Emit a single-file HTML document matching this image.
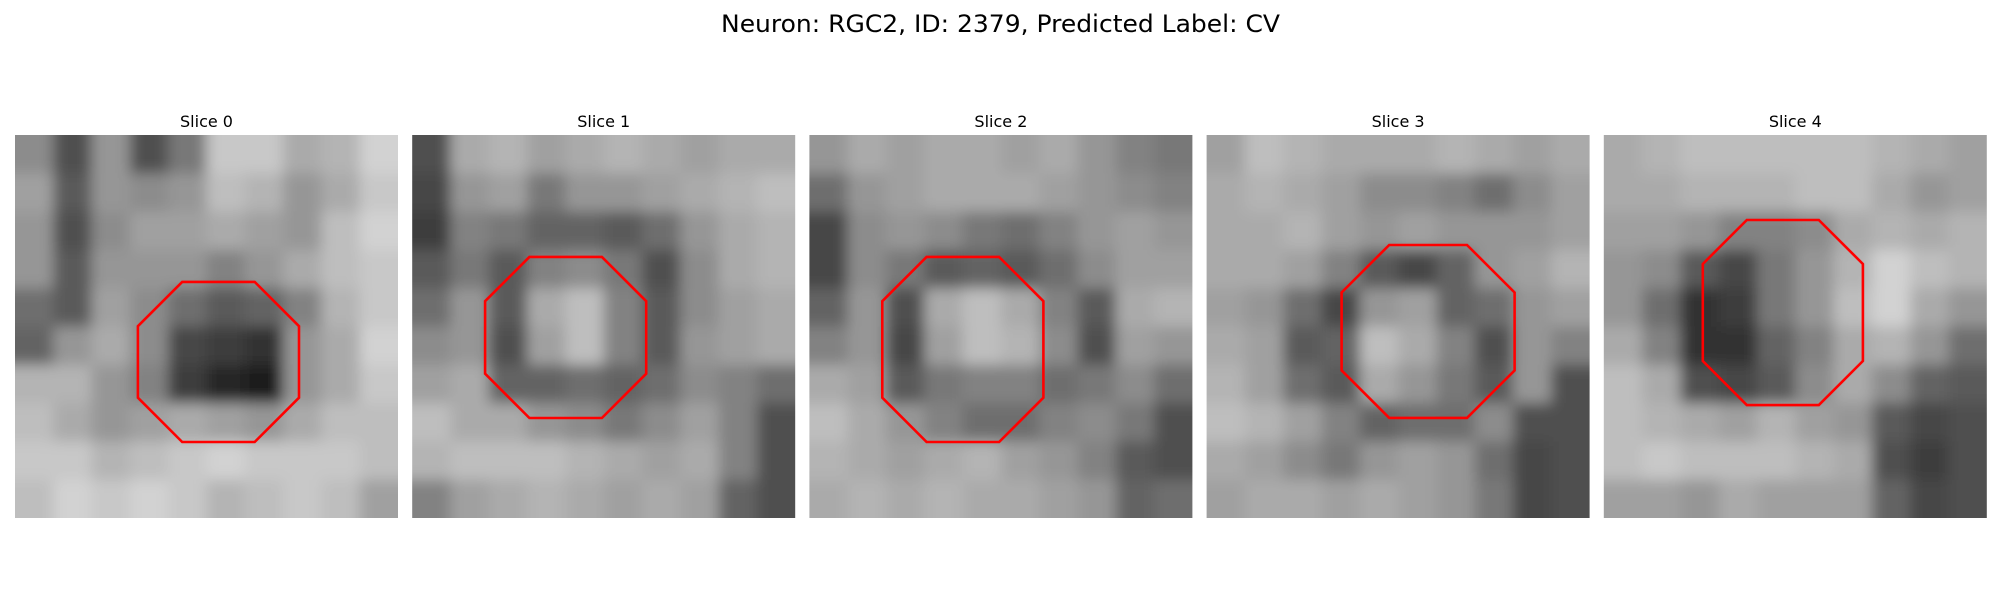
<!DOCTYPE html>
<html>
<head>
<meta charset="utf-8">
<style>
  html, body { margin: 0; padding: 0; background: #fff; }
  svg { display: block; }
  text { font-family: "DejaVu Sans", "Liberation Sans", sans-serif; fill: #000; }
</style>
</head>
<body>
<svg id="fig" width="2000" height="600" viewBox="0 0 2000 600" xmlns="http://www.w3.org/2000/svg">
  <defs>
    <filter id="soft" x="-20%" y="-20%" width="140%" height="140%">
      <feGaussianBlur stdDeviation="7"/>
    </filter>
  </defs>
  <rect x="0" y="0" width="2000" height="600" fill="#fff"/>
  <text x="721" y="32" font-size="24" textLength="559" lengthAdjust="spacingAndGlyphs">Neuron: RGC2, ID: 2379, Predicted Label: CV</text>
  <g id="panels"></g>
</svg>
<script>
// ---- data ----
const sliceTitles = ["Slice 0", "Slice 1", "Slice 2", "Slice 3", "Slice 4"];
// coarse 10x10 grey levels per slice (0 = black, 255 = white)
const grey0 = [
  [140, 80,150, 80,120,200,200,170,180,210],
  [160, 90,150,140,150,190,180,150,170,200],
  [150, 80,140,160,160,170,160,150,190,210],
  [150, 90,150,150,150,130,150,170,190,200],
  [110, 90,160,140,110, 90,100,130,180,200],
  [100,150,170,140, 70, 60, 50,150,170,210],
  [180,180,150,130, 60, 40, 30,150,170,200],
  [190,170,150,160,170,160,150,170,190,190],
  [200,200,180,190,200,210,200,200,200,190],
  [190,210,200,210,200,180,190,200,190,160]
];
const grey1 = [
  [ 80,170,180,160,170,180,170,160,170,170],
  [ 70,150,160,120,150,150,160,170,180,190],
  [ 60,130,120,100,100, 90,110,150,170,180],
  [ 90,120, 90,130,140,120, 80,140,170,180],
  [110,150, 90,170,190,130, 90,140,160,170],
  [140,150, 80,160,190,130, 90,150,160,170],
  [160,170,100,100,110,100,110,140,130,110],
  [190,170,170,150,140,120,140,160,130, 80],
  [180,190,190,190,180,170,160,170,130, 80],
  [130,160,170,180,170,160,170,160,100, 80]
];
const grey2 = [
  [150,170,160,170,170,160,170,150,130,120],
  [110,150,160,170,170,170,160,150,140,130],
  [ 70,140,150,140,120,110,130,150,160,150],
  [ 70,140,120, 90,100, 90,110,140,160,160],
  [100,150, 80,170,190,170,130, 90,170,180],
  [130,150, 70,160,190,180,140, 80,160,150],
  [170,160, 90,120,130,130,110,120,140,110],
  [190,170,150,130,110,110,130,140,120, 80],
  [180,170,160,170,180,160,150,130, 90, 80],
  [170,180,170,180,170,170,160,150,100,110]
];
const grey3 = [
  [160,190,180,170,170,170,180,170,160,170],
  [170,180,170,160,140,140,130,110,140,160],
  [170,170,180,160,150,160,150,150,150,160],
  [170,170,160,130, 90, 70,100,150,160,180],
  [160,150,110, 70,150,160,100,110,150,160],
  [170,160, 90,100,190,170,130, 80,150,130],
  [180,160,110, 90,170,150,120, 90,150, 80],
  [190,180,160,130,100,110,110,140, 80, 80],
  [170,160,140,120,150,160,150,110, 70, 80],
  [160,170,170,160,170,160,150,120, 70, 80]
];
const grey4 = [
  [170,180,190,190,190,190,190,180,170,160],
  [170,170,180,180,180,190,190,170,150,160],
  [160,160,150,130,130,140,170,180,170,180],
  [150,140, 90, 70,120,150,180,210,190,180],
  [150,110, 50, 60,120,150,190,210,170,150],
  [170,130, 50, 50,100,130,170,180,150,110],
  [190,170, 80, 70, 90,140,170,140,100, 90],
  [190,180,170,160,180,160,150, 90, 70, 80],
  [190,200,190,190,190,180,170, 80, 60, 80],
  [160,160,150,170,160,160,160,100, 70, 80]
];
const greys = [grey0, grey1, grey2, grey3, grey4];
// octagon outlines in image-pixel units (image is 31x31 px)
const octCx = [16.47, 12.42, 12.42, 17.93, 14.49];
const octCy = [18.37, 16.39, 17.36, 15.90, 14.37];
const octHalfW = [6.52, 6.52, 6.52, 7.00, 6.48];
const octHalfH = [6.48, 6.52, 7.49, 7.00, 7.49];

// ---- layout ----
const NS = "http://www.w3.org/2000/svg";
const imgPx = 31;
const panelSize = 383;
const panelTop = 135;
const panelLefts0 = 15, panelStep = 397.2;
const panelsG = document.getElementById('panels');
const defs = document.querySelector('defs');

function mk(tag, attrs) {
  const e = document.createElementNS(NS, tag);
  for (const k in attrs) e.setAttribute(k, attrs[k]);
  return e;
}

for (let s = 0; s < 5; s++) {
  const left = panelLefts0 + s * panelStep;
  const scale = panelSize / imgPx;
  const xs = v => left + v * scale;
  const ys = v => panelTop + v * scale;

  const g = mk('g', {});
  
  
  panelsG.appendChild(g);

  const clip = mk('clipPath', { id: 'clip' + s });
  clip.appendChild(mk('rect', { x: left, y: panelTop, width: panelSize, height: panelSize }));
  defs.appendChild(clip);

  const title = mk('text', { x: left + panelSize / 2, y: 127, 'font-size': 16, 'text-anchor': 'middle' });
  
  
  title.textContent = sliceTitles[s];
  g.appendChild(title);

  const imgG = mk('g', { 'clip-path': 'url(#clip' + s + ')' });
  
  
  g.appendChild(imgG);
  const blurG = mk('g', { filter: 'url(#soft)' });
  imgG.appendChild(blurG);

  const grid = greys[s];
  const n = grid.length;
  const cw = panelSize / n;
  const pad = 40;
  for (let r = 0; r < n; r++) {
    for (let c = 0; c < grid[r].length; c++) {
      let x = left + c * cw, y = panelTop + r * cw, w = cw + 0.5, h = cw + 0.5;
      if (c === 0) { x -= pad; w += pad; }
      if (c === grid[r].length - 1) { w += pad; }
      if (r === 0) { y -= pad; h += pad; }
      if (r === n - 1) { h += pad; }
      const v = grid[r][c];
      const rect = mk('rect', { x: x, y: y, width: w, height: h, fill: 'rgb(' + v + ',' + v + ',' + v + ')' });
      
      
      blurG.appendChild(rect);
    }
  }

  // octagon
  const cx = octCx[s], cy = octCy[s], hw = octHalfW[s], hh = octHalfH[s];
  const cut = 0.55 * hw;
  const pts = [
    [cx - hw + cut, cy - hh], [cx + hw - cut, cy - hh],
    [cx + hw, cy - hh + cut], [cx + hw, cy + hh - cut],
    [cx + hw - cut, cy + hh], [cx - hw + cut, cy + hh],
    [cx - hw, cy + hh - cut], [cx - hw, cy - hh + cut]
  ].map(p => xs(p[0]).toFixed(1) + ',' + ys(p[1]).toFixed(1)).join(' ');
  const poly = mk('polygon', { points: pts, fill: 'none', stroke: '#ff0000', 'stroke-width': 2.6, 'stroke-linejoin': 'miter' });
  
  
  g.appendChild(poly);
}
</script>
</body>
</html>
